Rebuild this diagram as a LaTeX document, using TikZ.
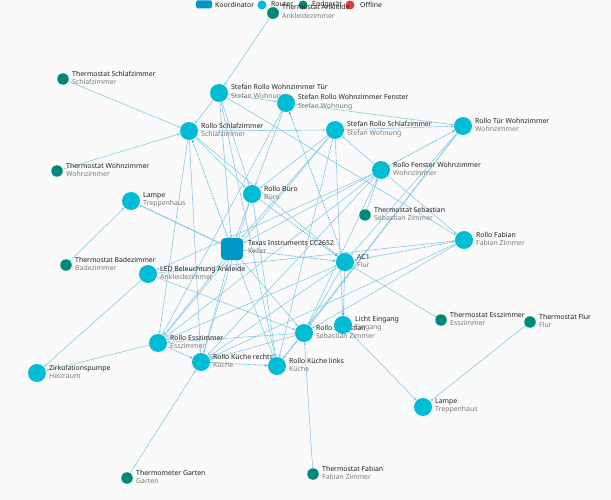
\documentclass[tikz,border=0pt]{standalone}
\usepackage{fontspec}
\setmainfont{Noto Sans}
\usetikzlibrary{backgrounds,arrows.meta}
\definecolor{bgc}{HTML}{FAFAFA}
\definecolor{routerc}{HTML}{00BCD4}
\definecolor{endc}{HTML}{00897B}
\definecolor{coordc}{HTML}{0097C7}
\definecolor{offc}{HTML}{E53935}
\definecolor{edgec}{RGB}{130,200,226}
\definecolor{dotc}{RGB}{60,175,212}
\definecolor{namec}{HTML}{222222}
\definecolor{subc}{HTML}{7A7A7A}
\newcommand\twol[2]{\textcolor{namec}{#1}\\\textcolor{subc}{#2}}
\tikzset{
 router/.style={circle, fill=routerc, minimum size=18pt, inner sep=0pt},
 enddev/.style={circle, fill=endc, minimum size=11.5pt, inner sep=0pt},
 coordbox/.style={rectangle, rounded corners=4pt, fill=coordc, minimum size=22pt, inner sep=0pt},
 lbl/.style={font=\fontsize{6.9}{8.4}\selectfont, align=left, inner sep=0pt, anchor=west},
 legtxt/.style={font=\fontsize{6.9}{8}\selectfont, text=namec, inner sep=0pt, anchor=west},
 link/.style={draw=edgec, line width=0.55pt, -{Stealth[length=3pt,width=2.4pt]}},
 thicklink/.style={link, line width=1pt},
 dlink/.style={draw=dotc, line width=0.8pt, dash pattern=on 0.8pt off 1pt, -{Stealth[length=3pt,width=2.4pt]}},
}
\begin{document}
\begin{tikzpicture}[x=1pt,y=-1pt]
\useasboundingbox (0,0) rectangle (611,500);
% ---------- nodes ----------
\node[enddev] (ta) at (273,13) {};
\node[enddev] (tsz) at (63,79) {};
\node[router] (rtur) at (219,93) {};
\node[lbl] (rtur-l) at (231,92) {\twol{Stefan Rollo Wohnzimmer Tür}{Stefan Wohnung}};
\node[router] (rfen) at (286,103) {};
\node[router] (rsz) at (189,131) {};
\node[router] (srsz) at (335,130) {};
\node[router] (rtw) at (463,126) {};
\node[enddev] (twz) at (57,171) {};
\node[router] (rfw) at (381,170) {};
\node[router] (rbu) at (252,194) {};
\node[router] (lamp) at (131,201) {};
\node[enddev] (tseb) at (365,215) {};
\node[router] (rfab) at (464,240) {};
\node[coordbox] (coord) at (232,249) {};
\node[router] (ac1) at (345,262) {};
\node[enddev] (tbad) at (66,265) {};
\node[router] (led) at (148,274) {};
\node[router] (rseb) at (304,333) {};
\node[lbl] (rseb-l) at (316,332) {\twol{Rollo Sebastian}{Sebastian Zimmer}};
\node[router] (licht) at (343,325) {};
\node[enddev] (tess) at (441,320) {};
\node[enddev] (tflur) at (530,322) {};
\node[router] (ress) at (158,343) {};
\node[router] (rkr) at (201,362) {};
\node[router] (rkl) at (277,366) {};
\node[router] (pump) at (37,373) {};
\node[router] (lamp2) at (423,407) {};
\node[enddev] (tgar) at (127,478) {};
\node[enddev] (tfab) at (313,474) {};
% ---------- labels ----------
\node[lbl] (tsz-l) at (72,78) {\twol{Thermostat Schlafzimmer}{Schlafzimmer}};
\node[lbl] (rfen-l) at (298,102) {\twol{Stefan Rollo Wohnzimmer Fenster}{Stefan Wohnung}};
\node[lbl] (rsz-l) at (201,130) {\twol{Rollo Schlafzimmer}{Schlafzimmer}};
\node[lbl] (srsz-l) at (347,129) {\twol{Stefan Rollo Schlafzimmer}{Stefan Wohnung}};
\node[lbl] (rtw-l) at (475,125) {\twol{Rollo Tür Wohnzimmer}{Wohnzimmer}};
\node[lbl] (twz-l) at (66,170) {\twol{Thermostat Wohnzimmer}{Wohnzimmer}};
\node[lbl] (rfw-l) at (393,169) {\twol{Rollo Fenster Wohnzimmer}{Wohnzimmer}};
\node[lbl] (rbu-l) at (264,193) {\twol{Rollo Büro}{Büro}};
\node[lbl] (lamp-l) at (143,200) {\twol{Lampe}{Treppenhaus}};
\node[lbl] (tseb-l) at (374,214) {\twol{Thermostat Sebastian}{Sebastian Zimmer}};
\node[lbl] (rfab-l) at (476,239) {\twol{Rollo Fabian}{Fabian Zimmer}};
\node[lbl] (coord-l) at (248,247) {\twol{Texas Instruments CC2652}{Keller}};
\node[lbl] (ac1-l) at (357,261) {\twol{AC1}{Flur}};
\node[lbl] (tbad-l) at (75,264) {\twol{Thermostat Badezimmer}{Badezimmer}};
\node[lbl] (led-l) at (160,273) {\twol{LED Beleuchtung Ankleide}{Ankleidezimmer}};
\node[lbl] (licht-l) at (355,324) {\twol{Licht Eingang}{Eingang}};
\node[lbl] (tess-l) at (450,319) {\twol{Thermostat Esszimmer}{Esszimmer}};
\node[lbl] (tflur-l) at (539,321) {\twol{Thermostat Flur}{Flur}};
\node[lbl] (ress-l) at (170,342) {\twol{Rollo Esszimmer}{Esszimmer}};
\node[lbl] (rkr-l) at (213,361) {\twol{Rollo Küche rechts}{Küche}};
\node[lbl] (rkl-l) at (289,365) {\twol{Rollo Küche links}{Küche}};
\node[lbl] (pump-l) at (49,372) {\twol{Zirkulationspumpe}{Heizraum}};
\node[lbl] (lamp2-l) at (435,406) {\twol{Lampe}{Treppenhaus}};
\node[lbl] (tgar-l) at (136,477) {\twol{Thermometer Garten}{Garten}};
\node[lbl] (tfab-l) at (322,473) {\twol{Thermostat Fabian}{Fabian Zimmer}};
% ---------- legend ----------
\node[coordbox, minimum width=16pt, minimum height=8pt, rounded corners=1.5pt] (lg1) at (204,4.5) {};
\node[legtxt] (lg1t) at (215,4.5) {Koordinator};
\node[circle, fill=routerc, minimum size=9pt, inner sep=0pt] (lg2) at (262,5) {};
\node[legtxt] (lg2t) at (271,4.5) {Router};
\node[circle, fill=endc, minimum size=9pt, inner sep=0pt] (lg3) at (303,5) {};
\node[legtxt] (lg3t) at (312,4.5) {Endgerät};
\node[circle, fill=offc, minimum size=9pt, inner sep=0pt] (lg4) at (350,5) {};
\node[legtxt] (lg4t) at (360,4.5) {Offline};
\node[enddev] (ta2) at (273,13) {};
\node[lbl] (ta-l) at (282,11.5) {\twol{Thermostat Ankleide}{Ankleidezimmer}};
% ---------- connectors ----------
\begin{scope}[on background layer]
\fill[bgc] (0,0) rectangle (611,500);
\draw[link] (ta) -- (rtur);
\draw[link] (tsz) -- (rsz);
\draw[link] (twz) -- (rsz);
\draw[link] (tbad) -- (lamp);
\draw[link] (tseb) -- (rfw);
\draw[link] (tess) -- (ac1);
\draw[link] (tflur) -- (lamp2);
\draw[link] (tgar) -- (rkr);
\draw[link] (tfab) -- (rseb);
\draw[link] (ress) -- (pump);
\draw[link] (led) -- (pump);
\draw[link] (rtur) -- (rsz);
\draw[link] (rtur) -- (rfen);
\draw[link] (rtur) -- (rfab);
\draw[link] (rtur) -- (coord);
\draw[link] (rtur) -- (rkl);
\draw[link] (rtur) -- (rbu);
\draw[link] (rfen) -- (rtw);
\draw[link] (rfen) -- (rbu);
\draw[dlink] (ac1) -- (rfen);
\draw[link] (rfen) -- (ress);
\draw[link] (rsz) -- (srsz);
\draw[link] (rsz) -- (rbu);
\draw[dlink] (coord) -- (rsz);
\draw[link] (rsz) -- (ress);
\draw[link] (rsz) -- (rkr);
\draw[link] (rsz) -- (ac1);
\draw[link] (srsz) -- (rtw);
\draw[link] (srsz) -- (rbu);
\draw[link] (srsz) -- (coord);
\draw[link] (srsz) -- (ress);
\draw[link] (srsz) -- (licht);
\draw[link] (srsz) -- (rkl);
\draw[link] (rfw) -- (srsz);
\draw[dlink] (rfw) -- (rtw);
\draw[link] (rfw) -- (rfab);
\draw[link] (rfw) -- (coord);
\draw[link] (rfw) -- (led);
\draw[link] (rfw) -- (ress);
\draw[link] (rfw) -- (rkr);
\draw[link] (rfw) -- (rseb);
\draw[link] (rtw) -- (ac1);
\draw[link] (rtw) -- (rseb);
\draw[link] (rtw) -- (rkl);
\draw[link] (rbu) -- (coord);
\draw[dlink] (rbu) -- (ac1);
\draw[link] (rbu) -- (rkl);
\draw[link] (rbu) -- (rkr);
\draw[thicklink] (coord) -- (lamp);
\draw[dlink] (coord) -- (ac1);
\draw[link] (coord) -- (rkl);
\draw[link] (coord) -- (rseb);
\draw[link] (coord) -- (ress);
\draw[link] (coord) -- (rkr);
\draw[link] (led) -- (rseb);
\draw[link] (led) -- (rfab);
\draw[dlink] (rfab) -- (ac1);
\draw[link] (rfab) -- (rseb);
\draw[link] (rfab) -- (rkr);
\draw[dlink] (ac1) -- (licht);
\draw[link] (ac1) -- (rseb);
\draw[link] (ac1) -- (ress);
\draw[link] (ac1) -- (rkr);
\draw[link] (rseb) -- (ress);
\draw[link] (rseb) -- (rkr);
\draw[link] (rseb) -- (rkl);
\draw[dlink] (ress) -- (rkr);
\draw[dlink] (rkr) -- (rkl);
\draw[link] (licht) -- (lamp2);
\end{scope}
\end{tikzpicture}
\end{document}
